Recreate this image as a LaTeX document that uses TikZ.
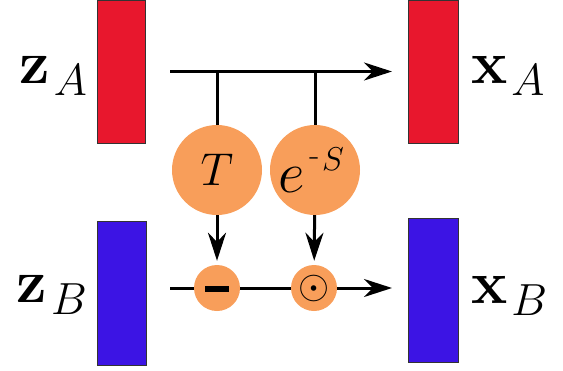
\RequirePackage{fix-cm}
\documentclass[tikz,border=0pt]{standalone}
\usepackage{amsmath}
\usetikzlibrary{arrows.meta}
\definecolor{blockred}{RGB}{232,23,45}
\definecolor{blockblue}{RGB}{60,20,228}
\definecolor{opfill}{RGB}{248,158,90}
\newcommand{\veclbl}[2]{{\fontsize{61}{70}\selectfont$\mathbf{#1}$}\kern4pt\raisebox{-12pt}{\fontsize{45}{50}\selectfont$#2$}}
\tikzset{
  blockA/.style={draw=black!80, line width=1pt, fill=blockred, minimum width=48pt, minimum height=143pt, inner sep=0pt, outer sep=0pt},
  blockB/.style={draw=black!80, line width=1pt, fill=blockblue, minimum width=49pt, minimum height=144pt, inner sep=0pt, outer sep=0pt},
  bigop/.style={circle, fill=opfill, minimum size=90pt, inner sep=0pt},
  smallop/.style={circle, fill=opfill, minimum size=46pt, inner sep=0pt},
  lbl/.style={inner sep=0pt},
  conn/.style={line width=3pt},
  arr/.style={line width=3pt, -{Stealth[length=28pt,width=18pt,inset=9pt]}}
}
\begin{document}
\begin{tikzpicture}[x=1pt,y=-1pt]
\useasboundingbox (0,0) rectangle (563,370);
% blocks
\node[blockA] (zA) at (121,71.5) {};
\node[blockA, minimum width=50pt] (xA) at (433,71.5) {};
\node[blockB] (zB) at (122,293.5) {};
\node[blockB, minimum width=50pt] (xB) at (433,290) {};
% labels
\node[lbl, anchor=base east] (lzA) at (87,83) {\veclbl{z}{A}};
\node[lbl, anchor=base west] (lxA) at (471,83) {\veclbl{x}{A}};
\node[lbl, anchor=base east] (lzB) at (87,302) {\veclbl{z}{B}};
\node[lbl, anchor=base west] (lxB) at (471,303) {\veclbl{x}{B}};
% operators
\node[bigop, font=\fontsize{46}{50}\selectfont] (T) at (217,170) {$T$};
\node[bigop] (eS) at (315,170) {\kern-7pt{\fontsize{58}{62}\selectfont$e$}\kern4pt{\fontsize{33}{36}\selectfont\raisebox{27pt}{-}\kern3pt\raisebox{22pt}{$S$}}};
\node[smallop] (minus) at (217,288) {};
\node[smallop, font=\fontsize{40}{44}\selectfont] (odot) at (314,288) {$\odot$};
\fill (205,285.5) rectangle (229,291.5);
% top path
\coordinate (tstart) at (170,71.5);
\draw[arr, shorten >=16pt] (tstart) -- (xA);
\draw[conn] (T |- tstart) -- (T);
\draw[conn] (eS |- tstart) -- (eS);
\draw[arr, shorten >=4pt] (T) -- (minus);
\draw[arr, shorten >=4pt] (eS) -- (odot);
% bottom path
\coordinate (bstart) at (170,288);
\draw[conn] (bstart) -- (minus);
\draw[conn] (minus) -- (odot);
\draw[arr, shorten >=16pt] (odot) -- (xB.west |- odot);
\end{tikzpicture}
\end{document}
